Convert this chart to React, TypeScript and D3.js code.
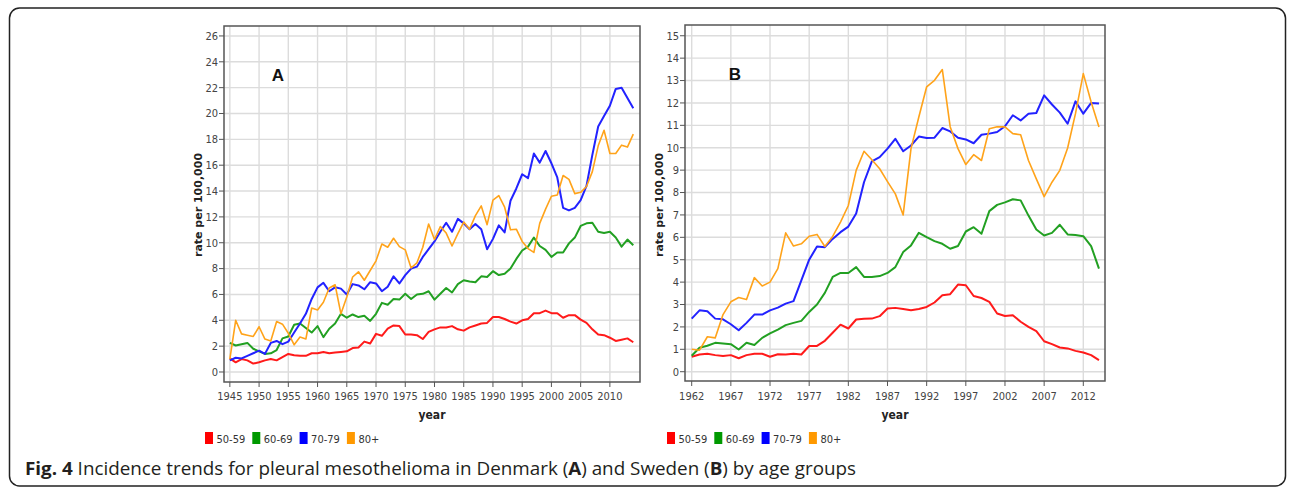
import React from "react";
import * as d3 from "d3";

// age groups and colours
const groups = ["50-59", "60-69", "70-79", "80+"];
const lineColors = ["#ff1a1a", "#22a022", "#2222ff", "#ffa31a"];
const boxColors = ["#ff0000", "#009900", "#0000ff", "#ff9900"];

// Panel A: Denmark, 1945-2014
const yearsA = d3.range(1945, 2015);
const denmark5059 = [1.05, 0.75, 1.0, 0.9, 0.65, 0.75, 0.9, 1.0, 0.9, 1.15, 1.4, 1.3, 1.25, 1.25, 1.45, 1.45, 1.55, 1.45, 1.5, 1.55, 1.6, 1.85, 1.9, 2.35, 2.2, 2.95, 2.8, 3.35, 3.6, 3.55, 2.9, 2.9, 2.85, 2.55, 3.1, 3.3, 3.45, 3.45, 3.55, 3.3, 3.2, 3.45, 3.6, 3.75, 3.8, 4.25, 4.25, 4.1, 3.9, 3.75, 4.0, 4.1, 4.55, 4.55, 4.75, 4.55, 4.55, 4.2, 4.4, 4.4, 4.05, 3.8, 3.3, 2.9, 2.85, 2.65, 2.4, 2.5, 2.6, 2.3];
const denmark6069 = [2.25, 2.05, 2.15, 2.25, 1.8, 1.6, 1.4, 1.45, 1.7, 2.6, 2.75, 3.65, 3.75, 3.4, 3.05, 3.55, 2.7, 3.35, 3.75, 4.5, 4.2, 4.45, 4.25, 4.35, 3.95, 4.5, 5.35, 5.2, 5.65, 5.6, 6.05, 5.65, 6.0, 6.05, 6.25, 5.6, 6.05, 6.5, 6.15, 6.8, 7.1, 7.0, 6.95, 7.4, 7.35, 7.8, 7.5, 7.6, 8.0, 8.75, 9.4, 9.7, 10.4, 9.75, 9.45, 8.9, 9.25, 9.25, 9.95, 10.4, 11.3, 11.5, 11.55, 10.85, 10.75, 10.85, 10.4, 9.7, 10.25, 9.8];
const denmark7079 = [0.9, 1.1, 1.05, 1.25, 1.45, 1.65, 1.4, 2.25, 2.4, 2.15, 2.35, 3.05, 3.75, 4.5, 5.65, 6.55, 6.9, 6.25, 6.55, 6.45, 6.0, 6.8, 6.7, 6.4, 6.95, 6.85, 6.25, 6.6, 7.4, 6.85, 7.5, 8.0, 8.15, 8.9, 9.5, 10.1, 10.85, 11.55, 10.85, 11.85, 11.5, 11.05, 11.45, 11.05, 9.5, 10.3, 11.35, 10.8, 13.25, 14.2, 15.3, 15.0, 16.9, 16.2, 17.1, 16.15, 15.05, 12.7, 12.5, 12.7, 13.3, 14.4, 16.8, 19.0, 19.8, 20.6, 21.9, 22.0, 21.2, 20.4];
const denmark80 = [1.0, 4.0, 2.95, 2.85, 2.75, 3.5, 2.55, 2.4, 3.9, 3.7, 3.0, 2.1, 2.7, 2.55, 4.95, 4.8, 5.4, 6.5, 6.75, 4.5, 5.8, 7.35, 7.75, 7.1, 7.85, 8.6, 9.9, 9.65, 10.35, 9.7, 9.45, 8.05, 8.45, 9.65, 11.45, 10.25, 11.25, 10.75, 9.75, 10.7, 11.6, 11.05, 12.1, 12.85, 11.4, 13.3, 13.65, 12.75, 11.0, 11.05, 10.1, 9.55, 9.25, 11.5, 12.6, 13.6, 13.7, 15.2, 14.9, 13.8, 13.9, 14.35, 15.5, 17.5, 18.7, 16.9, 16.9, 17.55, 17.4, 18.4];
const ticksXA = [1945, 1950, 1955, 1960, 1965, 1970, 1975, 1980, 1985, 1990, 1995, 2000, 2005, 2010];
const ticksYA = [0, 2, 4, 6, 8, 10, 12, 14, 16, 18, 20, 22, 24, 26];

// Panel B: Sweden, 1962-2014
const yearsB = d3.range(1962, 2015);
const sweden5059 = [0.67, 0.77, 0.8, 0.74, 0.7, 0.74, 0.6, 0.74, 0.8, 0.8, 0.67, 0.78, 0.77, 0.8, 0.77, 1.15, 1.15, 1.38, 1.74, 2.1, 1.93, 2.33, 2.36, 2.37, 2.48, 2.82, 2.85, 2.8, 2.74, 2.8, 2.89, 3.09, 3.41, 3.46, 3.89, 3.86, 3.38, 3.29, 3.12, 2.6, 2.49, 2.52, 2.23, 2.0, 1.81, 1.36, 1.23, 1.08, 1.04, 0.93, 0.86, 0.74, 0.52];
const sweden6069 = [0.71, 1.07, 1.16, 1.29, 1.26, 1.23, 0.99, 1.29, 1.19, 1.51, 1.71, 1.88, 2.08, 2.18, 2.27, 2.67, 3.0, 3.52, 4.23, 4.41, 4.41, 4.67, 4.23, 4.23, 4.27, 4.41, 4.67, 5.34, 5.64, 6.2, 6.01, 5.83, 5.71, 5.49, 5.61, 6.26, 6.45, 6.16, 7.17, 7.45, 7.56, 7.7, 7.65, 6.97, 6.35, 6.08, 6.2, 6.56, 6.13, 6.1, 6.05, 5.61, 4.6];
const sweden7079 = [2.37, 2.74, 2.7, 2.37, 2.34, 2.12, 1.85, 2.18, 2.55, 2.55, 2.74, 2.86, 3.04, 3.15, 4.08, 5.0, 5.59, 5.56, 5.93, 6.23, 6.48, 7.06, 8.46, 9.39, 9.58, 9.96, 10.4, 9.84, 10.1, 10.5, 10.43, 10.45, 10.88, 10.73, 10.45, 10.37, 10.2, 10.58, 10.63, 10.7, 10.96, 11.45, 11.22, 11.52, 11.55, 12.34, 11.93, 11.57, 11.07, 12.07, 11.52, 12.0, 11.97];
const sweden80 = [1.0, 0.96, 1.56, 1.51, 2.55, 3.12, 3.31, 3.22, 4.2, 3.83, 4.0, 4.6, 6.2, 5.61, 5.71, 6.05, 6.13, 5.59, 6.04, 6.68, 7.42, 8.99, 9.84, 9.46, 9.06, 8.49, 7.94, 7.0, 9.96, 11.37, 12.72, 13.01, 13.49, 10.94, 9.96, 9.25, 9.69, 9.43, 10.85, 10.94, 10.93, 10.63, 10.58, 9.43, 8.61, 7.82, 8.46, 8.99, 9.99, 11.52, 13.31, 12.04, 10.93];
const ticksXB = [1962, 1967, 1972, 1977, 1982, 1987, 1992, 1997, 2002, 2007, 2012];
const ticksYB = [0, 1, 2, 3, 4, 5, 6, 7, 8, 9, 10, 11, 12, 13, 14, 15];

const tickFont = "'Liberation Sans Narrow', 'DejaVu Sans Condensed', sans-serif";

function Panel({ frame, xDomain, yDomain, years, series, xTicks, yTicks, letter, letterPos, legendX }) {
  const x = d3.scaleLinear().domain(xDomain).range([frame.left, frame.right]);
  const y = d3.scaleLinear().domain(yDomain).range([frame.bottom, frame.top]);
  const line = d3.line<number>().x((_, i) => x(years[i])).y((d) => y(d));
  const midY = 205;
  const midX = (frame.left + frame.right) / 2;

  return (
    <g>
      {/* grid */}
      {xTicks.map((t) => (
        <line key={"gx" + t} x1={x(t)} x2={x(t)} y1={frame.top} y2={frame.bottom} stroke="#dcdcdc" strokeWidth={1.4} />
      ))}
      {yTicks.map((t) => (
        <line key={"gy" + t} x1={frame.left} x2={frame.right} y1={y(t)} y2={y(t)} stroke="#dcdcdc" strokeWidth={1.4} />
      ))}

      {/* series */}
      {series.map((s, i) => (
        <path key={"s" + i} d={line(s) || ""} fill="none" stroke={lineColors[i]}
          strokeWidth={i === 3 ? 1.6 : 2} strokeLinejoin="round" />
      ))}

      {/* frame */}
      <rect x={frame.left} y={frame.top} width={frame.right - frame.left} height={frame.bottom - frame.top}
        fill="none" stroke="#555" strokeWidth={1.5} />

      {/* y axis */}
      {yTicks.map((t) => (
        <g key={"ty" + t}>
          <line x1={frame.left - 5} x2={frame.left} y1={y(t)} y2={y(t)} stroke="#555" strokeWidth={1} />
          <text x={frame.left - 6} y={y(t)} dy="0.35em" textAnchor="end" fontFamily={tickFont} fontSize={11} fill="#444">{t}</text>
        </g>
      ))}
      {/* x axis */}
      {xTicks.map((t) => (
        <g key={"tx" + t}>
          <line x1={x(t)} x2={x(t)} y1={frame.bottom} y2={frame.bottom + 5} stroke="#555" strokeWidth={1} />
          <text x={x(t)} y={400} textAnchor="middle" fontFamily={tickFont} fontSize={11} fill="#444">{t}</text>
        </g>
      ))}

      <text transform={`translate(${frame.left - 22.5},${midY}) rotate(-90)`} textAnchor="middle"
        fontFamily="'DejaVu Sans', sans-serif" fontWeight="bold" fontSize={11} fill="#222">rate per 100,000</text>
      <text x={midX + 0} y={419} textAnchor="middle" fontFamily={tickFont} fontWeight="bold" fontSize={12} fill="#222">year</text>

      <text x={letterPos[0]} y={letterPos[1]} textAnchor="middle" fontFamily="'Liberation Sans', Arial, sans-serif"
        fontWeight="bold" fontSize={17} fill="#111">{letter}</text>

      {/* legend */}
      {groups.map((g, i) => (
        <g key={"lg" + g} transform={`translate(${legendX + i * 47.3},432)`}>
          <rect x={0} y={0} width={8} height={12} fill={boxColors[i]} />
          <text x={11.5} y={11} fontFamily={tickFont} fontSize={11} fill="#333">{g}</text>
        </g>
      ))}
    </g>
  );
}

export default function App() {
  return (
    <svg width={1293} height={490} style={{ position: "absolute", left: 0, top: 0, background: "#fff" }}>
      <rect x={9.5} y={8} width={1276} height={478} rx={10} fill="none" stroke="#222" strokeWidth={1.5} />

      <Panel
        frame={{ left: 224, right: 640, top: 26, bottom: 382 }}
        xDomain={[1944, 2015.15]}
        yDomain={[-0.774, 26.77]}
        years={yearsA}
        series={[denmark5059, denmark6069, denmark7079, denmark80]}
        xTicks={ticksXA}
        yTicks={ticksYA}
        letter="A"
        letterPos={[278, 81]}
        legendX={205}
      />
      <Panel
        frame={{ left: 685, right: 1105, top: 25, bottom: 381 }}
        xDomain={[1961.145, 2014.77]}
        yDomain={[-0.415, 15.48]}
        years={yearsB}
        series={[sweden5059, sweden6069, sweden7079, sweden80]}
        xTicks={ticksXB}
        yTicks={ticksYB}
        letter="B"
        letterPos={[735, 80]}
        legendX={667}
      />

      <text x={25} y={475} fontFamily="'Open Sans', sans-serif" fontSize={18} fill="#231f20"
        textLength={831} lengthAdjust="spacingAndGlyphs">
        <tspan fontWeight="bold">Fig. 4</tspan> Incidence trends for pleural mesothelioma in Denmark (<tspan fontWeight="bold">A</tspan>) and Sweden (<tspan fontWeight="bold">B</tspan>) by age groups
      </text>
    </svg>
  );
}
